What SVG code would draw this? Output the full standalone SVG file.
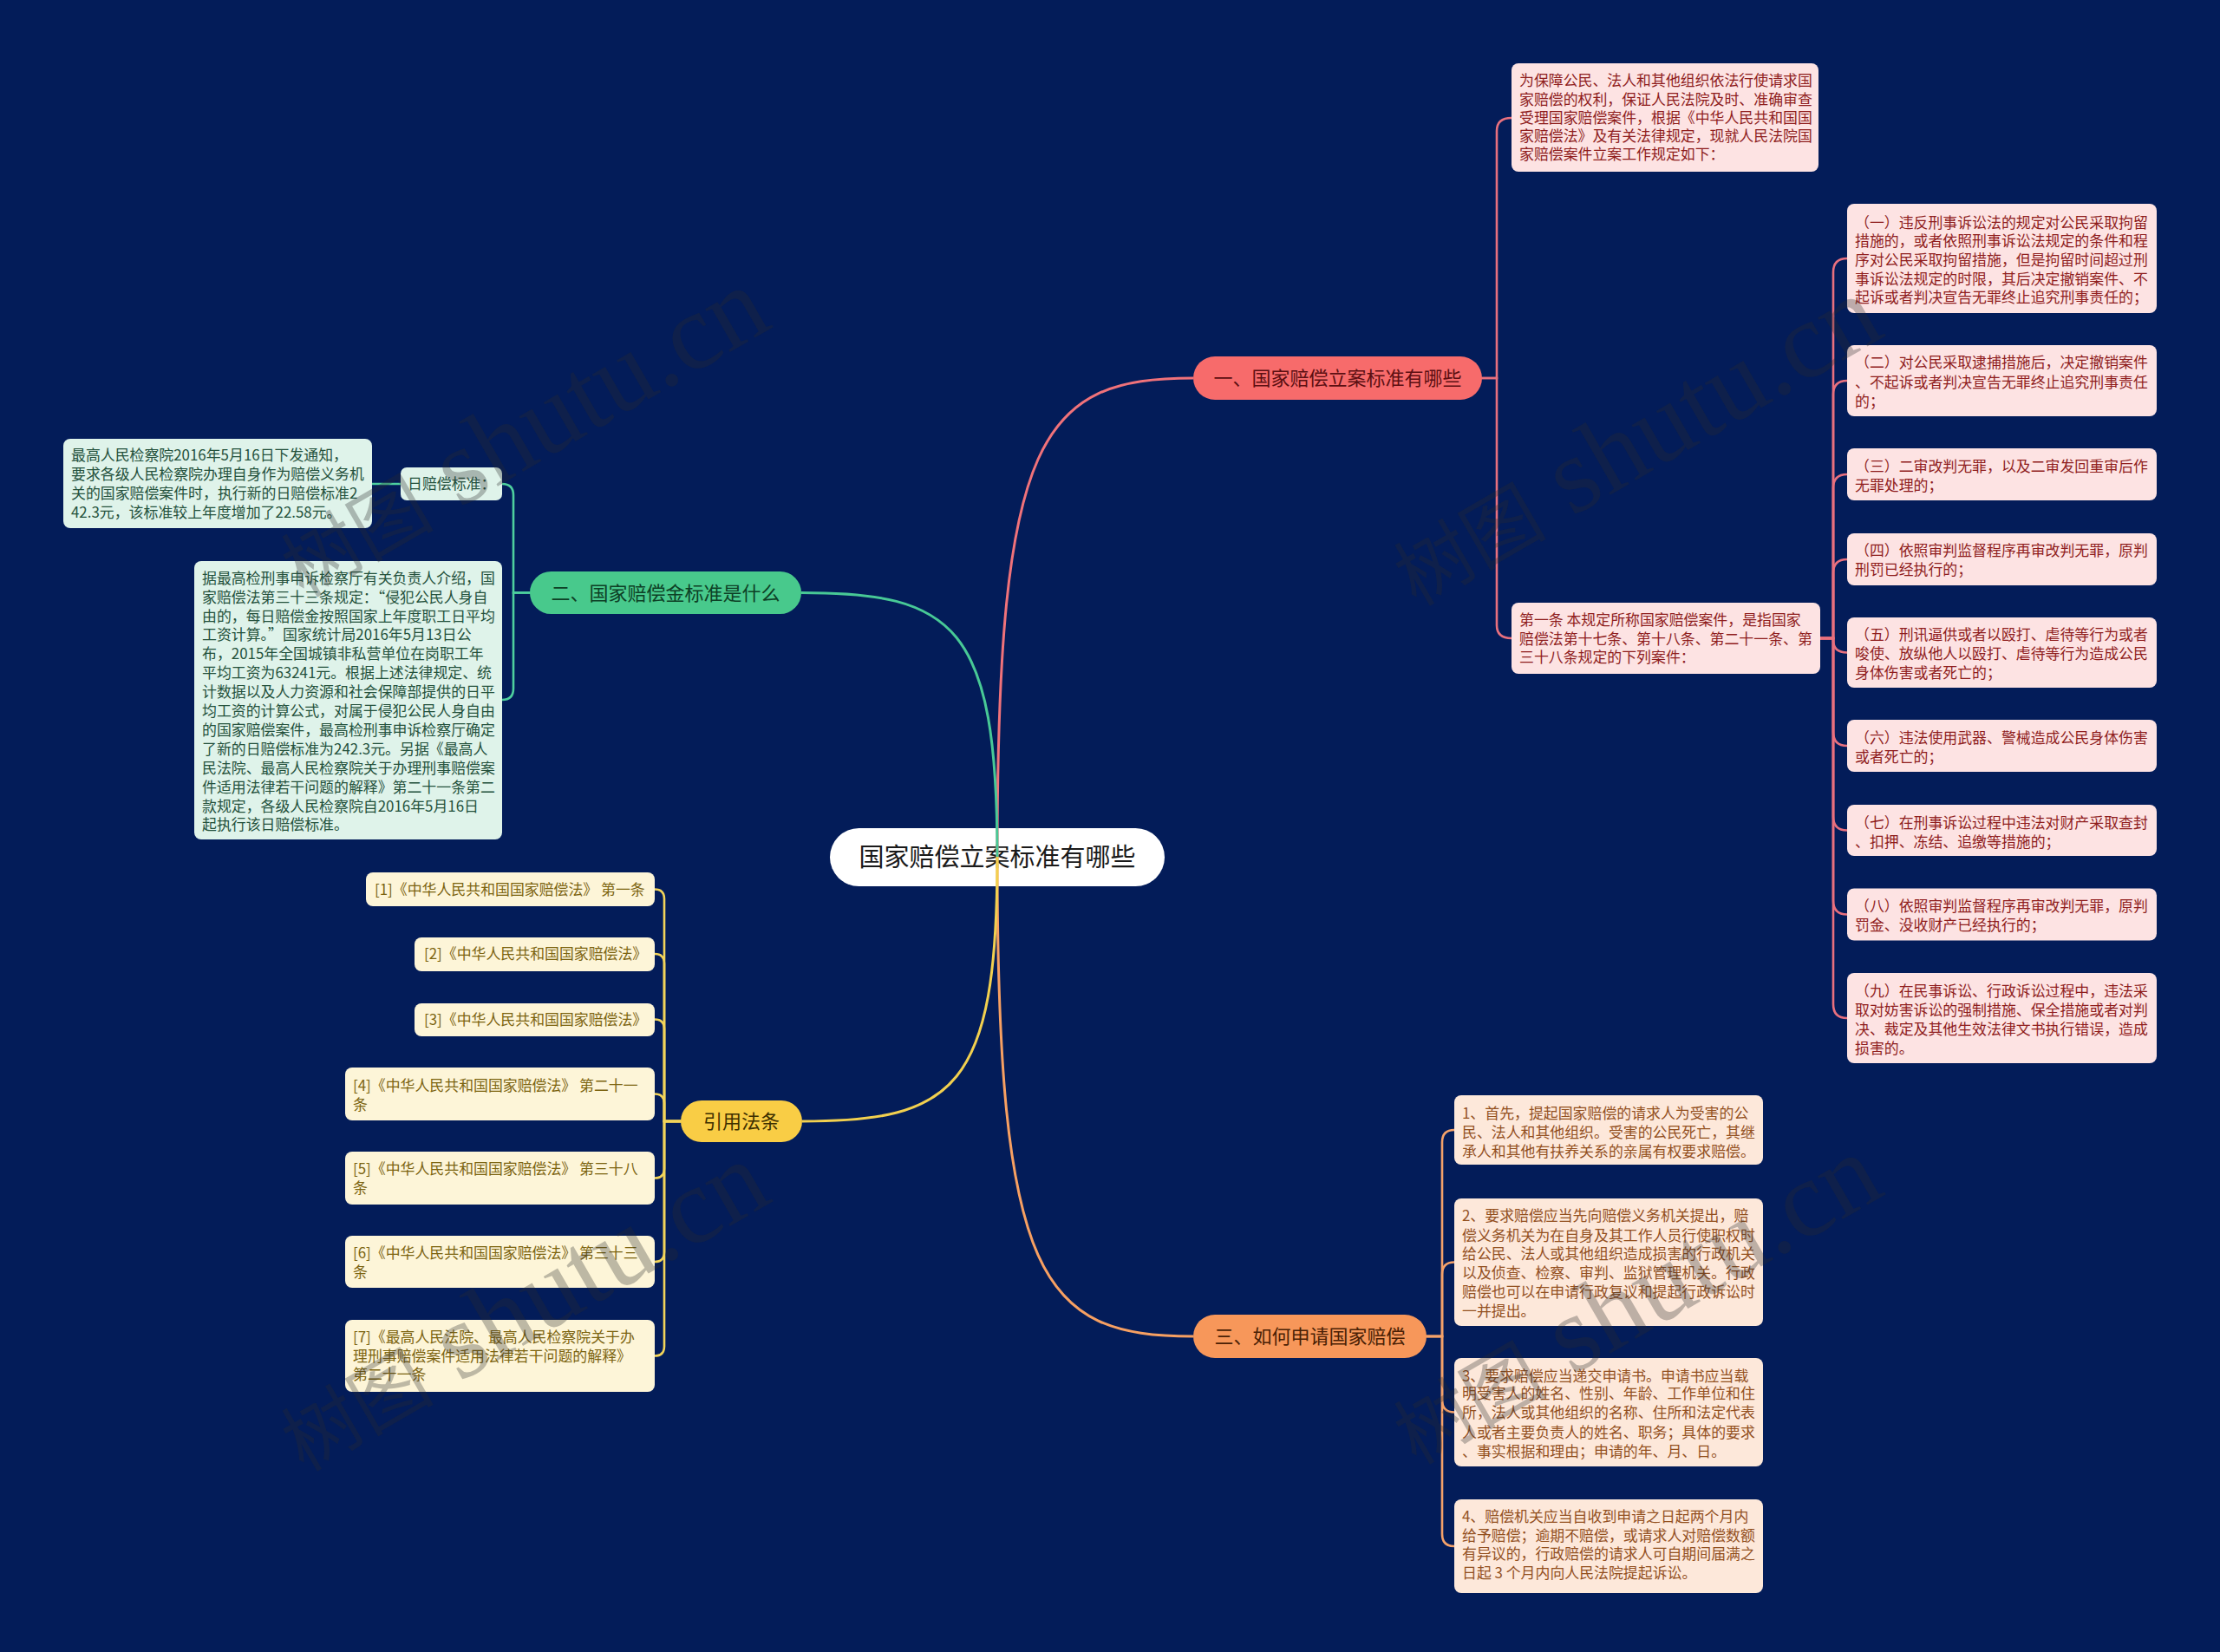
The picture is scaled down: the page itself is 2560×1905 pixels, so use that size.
<svg xmlns="http://www.w3.org/2000/svg" width="2560" height="1905" viewBox="0 0 2560 1905">
<style>
text{font-family:"Noto Sans CJK SC","Noto Sans",sans-serif;}
.lf{font-size:16.9px;}
.br{font-size:22px;text-anchor:middle;}
.pk rect{fill:#fde3e3;}
.pk text{fill:#8f1d1d;}
.gn rect{fill:#dff3ea;}
.gn text{fill:#24513c;}
.yl rect{fill:#fdf5d8;}
.yl text{fill:#7c6410;}
.or rect{fill:#fde8da;}
.or text{fill:#93501f;}
.c path{fill:none;stroke-width:2.6;stroke-linecap:round;}
.m path{fill:none;stroke-width:3;}
.wm{font-family:"Liberation Serif","Noto Sans CJK SC",serif;fill:#2a2a2a;fill-opacity:0.3;font-size:88px;}
</style>
<rect x="0" y="0" width="2560" height="1905" fill="#031c59"/>

<g id="center">
<rect x="957" y="955" width="386" height="67" rx="33.5" fill="#ffffff"/>
<text x="1150" y="999" font-size="29" text-anchor="middle" fill="#1a1a1a">国家赔偿立案标准有哪些</text>
</g>

<g id="connectors">
<g class="m">
<path d="M1150,988 C1150,502 1200,436 1376,436" stroke="#f0727a"/>
<path d="M1150,988 C1150,1475 1200,1541 1376,1541" stroke="#f7a062"/>
<path d="M1150,988 C1150,720 1100,683.5 924,683.5" stroke="#48c996"/>
<path d="M1150,988 C1150,1256 1100,1293 925,1293" stroke="#f2d04f"/>
</g>
<g class="c" stroke="#e8707e">
<path d="M1709,436 H1726 V151 Q1726,136 1743,136"/>
<path d="M1709,436 H1726 V721 Q1726,736 1743,736"/>
<path d="M2099,736 H2114 V314 Q2114,298 2130,298"/>
<path d="M2099,736 H2114 V455 Q2114,439 2130,439"/>
<path d="M2099,736 H2114 V563 Q2114,547 2130,547"/>
<path d="M2099,736 H2114 V661 Q2114,645 2130,645"/>
<path d="M2099,736 H2114 V738 Q2114,752.5 2130,752.5"/>
<path d="M2099,736 H2114 V844 Q2114,860 2130,860"/>
<path d="M2099,736 H2114 V941.5 Q2114,957.5 2130,957.5"/>
<path d="M2099,736 H2114 V1038.5 Q2114,1054.5 2130,1054.5"/>
<path d="M2099,736 H2114 V1158 Q2114,1174 2130,1174"/>
</g>
<g class="c" stroke="#4ecf9e">
<path d="M611,683.5 H592 V571 Q592,558 579,558"/>
<path d="M611,683.5 H592 V794 Q592,807 579,807"/>
<path d="M462,558 H429"/>
</g>
<g class="c" stroke="#f2d45a">
<path d="M785,1293 H766 V1036.5 Q766,1025.5 755,1025.5"/>
<path d="M785,1293 H766 V1111 Q766,1100 755,1100"/>
<path d="M785,1293 H766 V1186.5 Q766,1175.5 755,1175.5"/>
<path d="M785,1293 H766 V1272.5 Q766,1261.5 755,1261.5"/>
<path d="M785,1293 H766 V1347.5 Q766,1358.5 755,1358.5"/>
<path d="M785,1293 H766 V1444 Q766,1455 755,1455"/>
<path d="M785,1293 H766 V1552.5 Q766,1563.5 755,1563.5"/>
</g>
<g class="c" stroke="#f5a26a">
<path d="M1645,1541 H1663 V1317 Q1663,1303 1677,1303"/>
<path d="M1645,1541 H1663 V1469.5 Q1663,1455.5 1677,1455.5"/>
<path d="M1645,1541 H1663 V1614.5 Q1663,1628.5 1677,1628.5"/>
<path d="M1645,1541 H1663 V1769 Q1663,1783 1677,1783"/>
</g>
</g>

<g id="branch1">
<rect x="1376" y="411" width="333" height="50" rx="25" fill="#f76b6b"/>
<text class="br" x="1542.5" y="444" fill="#5c0f12">一、国家赔偿立案标准有哪些</text>
</g>
<g id="branch2">
<rect x="611" y="659" width="313" height="49" rx="24.5" fill="#48c98c"/>
<text class="br" x="767.5" y="691.5" fill="#0d3f25">二、国家赔偿金标准是什么</text>
</g>
<g id="branch3">
<rect x="1376" y="1516" width="269" height="50" rx="25" fill="#f7975a"/>
<text class="br" x="1510.5" y="1549" fill="#4a1f05">三、如何申请国家赔偿</text>
</g>
<g id="branch4">
<rect x="785" y="1269" width="140" height="48" rx="24" fill="#f9cd45"/>
<text class="br" x="855" y="1301" fill="#3d3000">引用法条</text>
</g>

<g id="n-intro" class="pk">
<rect x="1743" y="73" width="354" height="125" rx="8"/>
<text class="lf" x="1752" y="99.3">为保障公民、法人和其他组织依法行使请求国</text>
<text class="lf" x="1752" y="120.5">家赔偿的权利，保证人民法院及时、准确审查</text>
<text class="lf" x="1752" y="141.8">受理国家赔偿案件，根据《中华人民共和国国</text>
<text class="lf" x="1752" y="163.1">家赔偿法》及有关法律规定，现就人民法院国</text>
<text class="lf" x="1752" y="184.3">家赔偿案件立案工作规定如下：</text>
</g>
<g id="n-art1" class="pk">
<rect x="1743" y="695" width="356" height="82" rx="8"/>
<text class="lf" x="1752" y="721">第一条 本规定所称国家赔偿案件，是指国家</text>
<text class="lf" x="1752" y="742.5">赔偿法第十七条、第十八条、第二十一条、第</text>
<text class="lf" x="1752" y="764">三十八条规定的下列案件：</text>
</g>
<g id="n-c1" class="pk">
<rect x="2130" y="235" width="357" height="126" rx="8"/>
<text class="lf" x="2139" y="262.7">（一）违反刑事诉讼法的规定对公民采取拘留</text>
<text class="lf" x="2139" y="284.3">措施的，或者依照刑事诉讼法规定的条件和程</text>
<text class="lf" x="2139" y="306">序对公民采取拘留措施，但是拘留时间超过刑</text>
<text class="lf" x="2139" y="327.7">事诉讼法规定的时限，其后决定撤销案件、不</text>
<text class="lf" x="2139" y="349.3">起诉或者判决宣告无罪终止追究刑事责任的；</text>
</g>
<g id="n-c2" class="pk">
<rect x="2130" y="398" width="357" height="82" rx="8"/>
<text class="lf" x="2139" y="424.3">（二）对公民采取逮捕措施后，决定撤销案件</text>
<text class="lf" x="2139" y="446.7">、不起诉或者判决宣告无罪终止追究刑事责任</text>
<text class="lf" x="2139" y="469.3">的；</text>
</g>
<g id="n-c3" class="pk">
<rect x="2130" y="517" width="357" height="60" rx="8"/>
<text class="lf" x="2139" y="544.3">（三）二审改判无罪，以及二审发回重审后作</text>
<text class="lf" x="2139" y="566">无罪处理的；</text>
</g>
<g id="n-c4" class="pk">
<rect x="2130" y="615" width="357" height="60" rx="8"/>
<text class="lf" x="2139" y="641">（四）依照审判监督程序再审改判无罪，原判</text>
<text class="lf" x="2139" y="663.3">刑罚已经执行的；</text>
</g>
<g id="n-c5" class="pk">
<rect x="2130" y="712" width="357" height="81" rx="8"/>
<text class="lf" x="2139" y="738.1">（五）刑讯逼供或者以殴打、虐待等行为或者</text>
<text class="lf" x="2139" y="760.1">唆使、放纵他人以殴打、虐待等行为造成公民</text>
<text class="lf" x="2139" y="782.1">身体伤害或者死亡的；</text>
</g>
<g id="n-c6" class="pk">
<rect x="2130" y="830" width="357" height="60" rx="8"/>
<text class="lf" x="2139" y="857">（六）违法使用武器、警械造成公民身体伤害</text>
<text class="lf" x="2139" y="878.5">或者死亡的；</text>
</g>
<g id="n-c7" class="pk">
<rect x="2130" y="928" width="357" height="59" rx="8"/>
<text class="lf" x="2139" y="954.5">（七）在刑事诉讼过程中违法对财产采取查封</text>
<text class="lf" x="2139" y="976.5">、扣押、冻结、追缴等措施的；</text>
</g>
<g id="n-c8" class="pk">
<rect x="2130" y="1024.5" width="357" height="60" rx="8"/>
<text class="lf" x="2139" y="1050.8">（八）依照审判监督程序再审改判无罪，原判</text>
<text class="lf" x="2139" y="1072.8">罚金、没收财产已经执行的；</text>
</g>
<g id="n-c9" class="pk">
<rect x="2130" y="1122" width="357" height="104" rx="8"/>
<text class="lf" x="2139" y="1148.9">（九）在民事诉讼、行政诉讼过程中，违法采</text>
<text class="lf" x="2139" y="1170.9">取对妨害诉讼的强制措施、保全措施或者对判</text>
<text class="lf" x="2139" y="1192.8">决、裁定及其他生效法律文书执行错误，造成</text>
<text class="lf" x="2139" y="1214.8">损害的。</text>
</g>

<g id="n-daily" class="gn">
<rect x="462" y="539" width="117" height="38" rx="7"/>
<text class="lf" x="470" y="564">日赔偿标准：</text>
</g>
<g id="n-notice" class="gn">
<rect x="73" y="506" width="356" height="103" rx="8"/>
<text class="lf" x="82" y="531">最高人民检察院2016年5月16日下发通知，</text>
<text class="lf" x="82" y="553">要求各级人民检察院办理自身作为赔偿义务机</text>
<text class="lf" x="82" y="575">关的国家赔偿案件时，执行新的日赔偿标准2</text>
<text class="lf" x="82" y="597">42.3元，该标准较上年度增加了22.58元。</text>
</g>
<g id="n-intro2" class="gn">
<rect x="224" y="647" width="355" height="321" rx="8"/>
<text class="lf" x="233" y="672.7">据最高检刑事申诉检察厅有关负责人介绍，国</text>
<text class="lf" x="233" y="694.6">家赔偿法第三十三条规定：“侵犯公民人身自</text>
<text class="lf" x="233" y="716.5">由的，每日赔偿金按照国家上年度职工日平均</text>
<text class="lf" x="233" y="738.4">工资计算。”国家统计局2016年5月13日公</text>
<text class="lf" x="233" y="760.3">布，2015年全国城镇非私营单位在岗职工年</text>
<text class="lf" x="233" y="782.2">平均工资为63241元。根据上述法律规定、统</text>
<text class="lf" x="233" y="804.1">计数据以及人力资源和社会保障部提供的日平</text>
<text class="lf" x="233" y="826">均工资的计算公式，对属于侵犯公民人身自由</text>
<text class="lf" x="233" y="847.9">的国家赔偿案件，最高检刑事申诉检察厅确定</text>
<text class="lf" x="233" y="869.8">了新的日赔偿标准为242.3元。另据《最高人</text>
<text class="lf" x="233" y="891.7">民法院、最高人民检察院关于办理刑事赔偿案</text>
<text class="lf" x="233" y="913.6">件适用法律若干问题的解释》第二十一条第二</text>
<text class="lf" x="233" y="935.5">款规定，各级人民检察院自2016年5月16日</text>
<text class="lf" x="233" y="957.4">起执行该日赔偿标准。</text>
</g>

<g id="n-ref1" class="yl">
<rect x="422" y="1006" width="333" height="39" rx="8"/>
<text class="lf" x="432" y="1031.5">[1]《中华人民共和国国家赔偿法》 第一条</text>
</g>
<g id="n-ref2" class="yl">
<rect x="478" y="1081" width="277" height="39" rx="8"/>
<text class="lf" x="489" y="1106">[2]《中华人民共和国国家赔偿法》</text>
</g>
<g id="n-ref3" class="yl">
<rect x="478" y="1157" width="277" height="38" rx="8"/>
<text class="lf" x="489" y="1181.5">[3]《中华人民共和国国家赔偿法》</text>
</g>
<g id="n-ref4" class="yl">
<rect x="398" y="1231" width="357" height="61" rx="8"/>
<text class="lf" x="407" y="1258">[4]《中华人民共和国国家赔偿法》 第二十一</text>
<text class="lf" x="407" y="1279.5">条</text>
</g>
<g id="n-ref5" class="yl">
<rect x="398" y="1328" width="357" height="61" rx="8"/>
<text class="lf" x="407" y="1354">[5]《中华人民共和国国家赔偿法》 第三十八</text>
<text class="lf" x="407" y="1375.5">条</text>
</g>
<g id="n-ref6" class="yl">
<rect x="398" y="1425" width="357" height="60" rx="8"/>
<text class="lf" x="407" y="1451">[6]《中华人民共和国国家赔偿法》 第三十三</text>
<text class="lf" x="407" y="1472.8">条</text>
</g>
<g id="n-ref7" class="yl">
<rect x="398" y="1522" width="357" height="83" rx="8"/>
<text class="lf" x="407" y="1548">[7]《最高人民法院、最高人民检察院关于办</text>
<text class="lf" x="407" y="1569.6">理刑事赔偿案件适用法律若干问题的解释》</text>
<text class="lf" x="407" y="1591.2">第二十一条</text>
</g>

<g id="n-s1" class="or">
<rect x="1677" y="1263" width="356" height="80" rx="8"/>
<text class="lf" x="1686" y="1290">1、首先，提起国家赔偿的请求人为受害的公</text>
<text class="lf" x="1686" y="1312.4">民、法人和其他组织。受害的公民死亡，其继</text>
<text class="lf" x="1686" y="1334.3">承人和其他有扶养关系的亲属有权要求赔偿。</text>
</g>
<g id="n-s2" class="or">
<rect x="1677" y="1382" width="356" height="147" rx="8"/>
<text class="lf" x="1686" y="1408.4">2、要求赔偿应当先向赔偿义务机关提出，赔</text>
<text class="lf" x="1686" y="1430.9">偿义务机关为在自身及其工作人员行使职权时</text>
<text class="lf" x="1686" y="1452.4">给公民、法人或其他组织造成损害的行政机关</text>
<text class="lf" x="1686" y="1474.2">以及侦查、检察、审判、监狱管理机关。行政</text>
<text class="lf" x="1686" y="1496">赔偿也可以在申请行政复议和提起行政诉讼时</text>
<text class="lf" x="1686" y="1517.5">一并提出。</text>
</g>
<g id="n-s3" class="or">
<rect x="1677" y="1566" width="356" height="125" rx="8"/>
<text class="lf" x="1686" y="1592.7">3、要求赔偿应当递交申请书。申请书应当载</text>
<text class="lf" x="1686" y="1613.4">明受害人的姓名、性别、年龄、工作单位和住</text>
<text class="lf" x="1686" y="1635.2">所，法人或其他组织的名称、住所和法定代表</text>
<text class="lf" x="1686" y="1657.8">人或者主要负责人的姓名、职务；具体的要求</text>
<text class="lf" x="1686" y="1680.4">、事实根据和理由；申请的年、月、日。</text>
</g>
<g id="n-s4" class="or">
<rect x="1677" y="1729" width="356" height="108" rx="8"/>
<text class="lf" x="1686" y="1754.5">4、赔偿机关应当自收到申请之日起两个月内</text>
<text class="lf" x="1686" y="1777.1">给予赔偿；逾期不赔偿，或请求人对赔偿数额</text>
<text class="lf" x="1686" y="1797.8">有异议的，行政赔偿的请求人可自期间届满之</text>
<text class="lf" x="1686" y="1820.3">日起 3 个月内向人民法院提起诉讼。</text>
</g>

<g id="watermarks">
<text class="wm" transform="translate(350,690) rotate(-30)">树图<tspan font-size="125"> shutu.cn</tspan></text>
<text class="wm" transform="translate(1633,700) rotate(-30)">树图<tspan font-size="125"> shutu.cn</tspan></text>
<text class="wm" transform="translate(350,1698) rotate(-30)">树图<tspan font-size="125"> shutu.cn</tspan></text>
<text class="wm" transform="translate(1633,1690) rotate(-30)">树图<tspan font-size="125"> shutu.cn</tspan></text>
</g>
</svg>
